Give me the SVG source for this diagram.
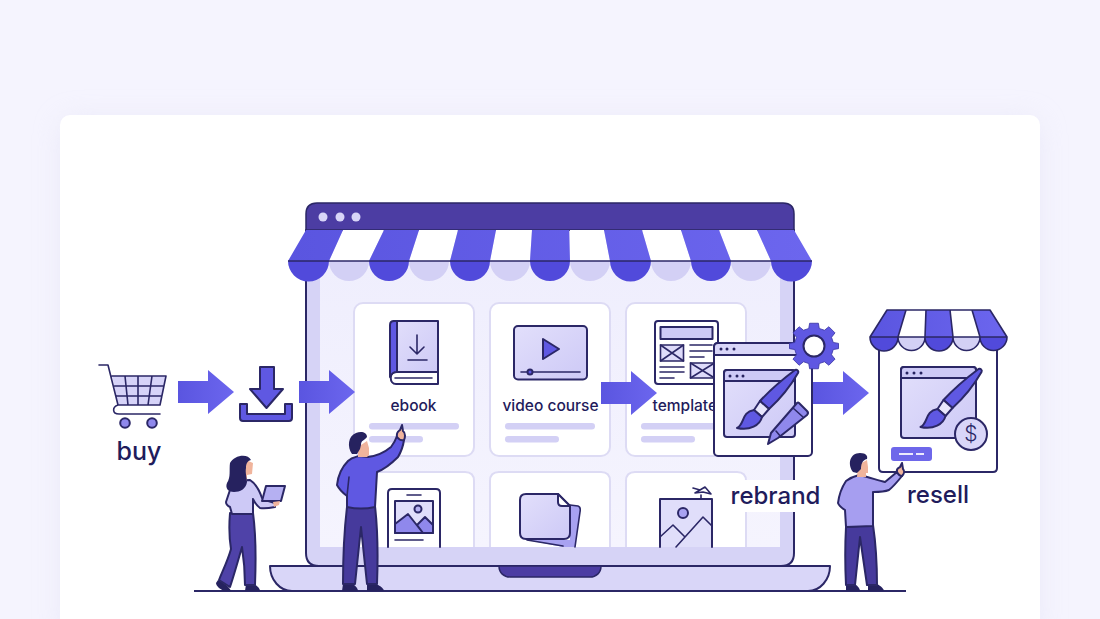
<svg xmlns="http://www.w3.org/2000/svg" width="1100" height="619" viewBox="0 0 1100 619">
<style>
.ink{stroke:#2b2766;stroke-width:2;stroke-linejoin:round;stroke-linecap:round}
.thin{stroke:#2b2766;stroke-width:1.600;stroke-linejoin:round;stroke-linecap:round;fill:none}
.lbl{font-family:"Inter","Liberation Sans",sans-serif;fill:#1f1c5c;text-anchor:middle;font-weight:500}
.card{fill:#fff;stroke:#dddbf4;stroke-width:2}
.bar{fill:#d3d0f5}
.lil{fill:#d8d5f8}
.dark{fill:#4c3da3}
.deep{fill:#26225f}
.skin{fill:#f0b49c}
</style>
<defs>
<linearGradient id="blueFade" x1="0" y1="0" x2="1" y2="0"><stop offset="0" stop-color="#5a55e0"/><stop offset="1" stop-color="#6c66ee"/></linearGradient>
<linearGradient id="iconFill" x1="0" y1="0" x2="1" y2="1"><stop offset="0" stop-color="#e2dffb"/><stop offset="1" stop-color="#cdc9f6"/></linearGradient>
<linearGradient id="panel" x1="0" y1="0" x2="0" y2="1"><stop offset="0" stop-color="#efeefd"/><stop offset="1" stop-color="#f5f4fe"/></linearGradient>
<filter id="soft" x="-10%" y="-10%" width="120%" height="120%"><feGaussianBlur stdDeviation="14"/></filter>
<path id="arrowShape" d="M0 -11H30V-22L56 0L30 22V11H0Z" fill="url(#blueFade)"/>
<g id="brush">
<path class="ink" fill="#5f58e2" stroke-width="1.800" d="M795 370C797 369 799 371 798 373C790 387 780 399 769 409L760 401C771 389 783 379 795 370Z"/>
<path class="ink" fill="#e8e6fc" stroke-width="1.800" d="M760 401L769 409L762 417L754 410Z"/>
<path class="ink" fill="#5f58e2" stroke-width="1.800" d="M754 410L762 417C760 425 750 431 737 428C745 424 741 412 754 410Z"/>
</g>
</defs>

<rect width="1100" height="619" fill="#f5f4fe"/>
<rect x="62" y="120" width="976" height="520" rx="10" fill="#dcdbf0" opacity=".5" filter="url(#soft)"/>
<rect x="60" y="115" width="980" height="530" rx="10" fill="#fff"/>

<g id="laptop">
<path d="M306 230H794V553Q794 566 781 566H319Q306 566 306 553Z" fill="#d6d3f6"/>
<rect x="320" y="262" width="460" height="285" fill="url(#panel)"/>
<path class="ink" fill="none" d="M306 230V553Q306 566 319 566H781Q794 566 794 553V230"/>
<path class="ink" fill="#d9d6f8" d="M270 566H830C830 580 820 591 808 591H292C280 591 270 580 270 566Z"/>
<path class="dark" d="M499 566H601C601 573 596 577 590 577H510C504 577 499 573 499 566Z" stroke="#2b2766" stroke-width="1.500"/>
<path class="dark" d="M306 230V214Q306 203 317 203H783Q794 203 794 214V230Z" stroke="#2b2766" stroke-width="1.500"/>
<circle cx="323" cy="217" r="4.500" class="lil"/><circle cx="340" cy="217" r="4.500" class="lil"/><circle cx="356" cy="217" r="4.500" class="lil"/>
</g>

<g id="awning">
<path fill="#d3d0f5" d="M329 261a20 20 0 0 0 40 0ZM409 261a20 20 0 0 0 40 0ZM490 261a20 20 0 0 0 40 0ZM570 261a20 20 0 0 0 40 0ZM651 261a20 20 0 0 0 40 0ZM731 261a20 20 0 0 0 40 0Z"/>
<path fill="#fff" d="M343 230H384L369 261H329ZM419 230H458L450 261H409ZM496 230H532L530 261H490ZM570 230H604L610 261H570ZM642 230H681L691 261H651ZM719 230H757L771 261H731Z"/>
<path fill="url(#blueFade)" d="M306 230H343L329 261H288ZM384 230H419L409 261H369ZM458 230H496L490 261H450ZM532 230H569L570 261H530ZM604 230H642L651 261H610ZM681 230H719L731 261H691ZM757 230H794L812 261H771Z"/>
<path fill="#514adb" d="M288 261a20.500 20.500 0 0 0 41 0ZM369 261a20 20 0 0 0 40 0ZM450 261a20 20 0 0 0 40 0ZM530 261a20 20 0 0 0 40 0ZM610 261a20.500 20.500 0 0 0 41 0ZM691 261a20 20 0 0 0 40 0ZM771 261a20.500 20.500 0 0 0 41 0Z"/>
<path d="M288 261H812" stroke="#2b2766" stroke-width="1.600"/>
</g>

<g id="ebook">
<rect class="card" x="354" y="303" width="120" height="153" rx="9"/>
<rect x="393" y="321" width="45" height="52" fill="url(#iconFill)"/>
<path class="ink" fill="#fff" d="M438 372H396C389 372 389 384 396 384H438Z"/>
<path class="ink" fill="none" d="M394 321H438V372"/>
<path class="ink" fill="#5f58e2" d="M390 377V325Q390 321 394 321H397V372Q392 372 390 377Z"/>
<path class="thin" d="M395 378H432M417 335V354M410 347L417 354L424 347M408 360H427"/>
<text class="lbl" x="413.500" y="411" font-size="15.500">ebook</text>
<rect class="bar" x="369" y="423" width="90" height="6.500" rx="3.200"/>
<rect class="bar" x="369" y="436" width="54" height="6.500" rx="3.200"/>
</g>

<g id="video-course">
<rect class="card" x="490" y="303" width="120" height="153" rx="9"/>
<rect class="ink" fill="url(#iconFill)" x="514" y="326" width="73" height="53.500" rx="4"/>
<path class="ink" fill="#5f58e2" d="M543 339L559 349L543 359Z"/>
<path class="thin" d="M521 372H580"/><circle class="ink" cx="530" cy="372" r="2.500" fill="#5f58e2" stroke-width="1.500"/>
<text class="lbl" x="550.500" y="411" font-size="15.500">video course</text>
<rect class="bar" x="505" y="423" width="90" height="6.500" rx="3.200"/>
<rect class="bar" x="505" y="436" width="54" height="6.500" rx="3.200"/>
</g>

<g id="templates">
<rect class="card" x="626" y="303" width="120" height="153" rx="9"/>
<rect class="ink" fill="#fff" x="655" y="321" width="63" height="63" rx="3"/>
<rect class="ink" fill="#cdc9f6" stroke-width="1.500" x="660.500" y="327" width="52" height="12"/>
<g class="thin"><rect x="660.500" y="345" width="23" height="16" fill="#dedbfa"/><path d="M660.500 345L683.500 361M683.500 345L660.500 361"/><rect x="690.500" y="363" width="24" height="15" fill="#dedbfa"/><path d="M690.500 363L714.500 378M714.500 363L690.500 378"/></g>
<path class="thin" stroke-width="1.300" d="M690 345H712M690 351H712M690 357H704M660 367H684M660 372H684M660 378H674"/>
<text class="lbl" x="689" y="411" font-size="15.500">templates</text>
<rect class="bar" x="641" y="423" width="90" height="6.500" rx="3.200"/>
<rect class="bar" x="641" y="436" width="54" height="6.500" rx="3.200"/>
</g>

<g id="card-image">
<path class="card" d="M354 547V481Q354 472 363 472H465Q474 472 474 481V547"/>
<path class="ink" fill="#fff" stroke-width="1.600" d="M388 547V493Q388 489 392 489H436Q440 489 440 493V547"/>
<path class="thin" d="M407 495H421M395 540H423"/>
<rect class="ink" fill="#e0defa" stroke-width="1.600" x="395" y="501" width="38" height="32"/>
<path class="ink" fill="#8f88ec" stroke-width="1.500" d="M395 524L408 514L423 533H395ZM417 525L425 517L433 525V533H423Z"/>
<circle class="ink" fill="#b5b0f2" stroke-width="1.400" cx="418" cy="509" r="3.500"/>
</g>

<g id="card-files">
<path class="card" d="M490 547V481Q490 472 499 472H601Q610 472 610 481V547"/>
<path fill="#a8a2f1" d="M570 505L578 506Q581 507 580 512L575 547H563L527 540H570Z"/>
<path class="thin" stroke-width="1.500" d="M570 505L578 506Q581 507 580 512L575 547M527 540L563 546"/>
<path class="ink" fill="url(#iconFill)" d="M526 494H558L570 506V533Q570 539 564 539H526Q520 539 520 533V500Q520 494 526 494Z"/>
<path class="ink" fill="#fff" stroke-width="1.500" d="M558 494V502Q558 506 562 506H570Z"/>
</g>

<g id="card-landscape">
<path class="card" d="M626 547V481Q626 472 635 472H737Q746 472 746 481V547"/>
<path class="ink" fill="#e0defa" stroke-width="1.600" d="M660 547V499H712V547"/>
<circle class="ink" fill="#a8a2f1" stroke-width="1.500" cx="683" cy="513" r="5"/>
<path class="thin" d="M660 537L673 525L685 537M676 547L703 517L712 526"/>
<path class="thin" d="M701 499V495M695 493L705 487L711 494L703 492ZM693 488L700 490"/>
</g>

<g id="connectors">
<use href="#arrowShape" transform="translate(178 392)"/>
<use href="#arrowShape" transform="translate(299 392)"/>
<use href="#arrowShape" transform="translate(601 393)"/>
<use href="#arrowShape" transform="translate(813 393)"/>
</g>

<g id="buy">
<path fill="#d6d3f8" d="M112 376H166L160 405H118Z"/>
<path class="thin" stroke-width="1.800" d="M99 365H108L118 405H160L166 376H112M114.500 386H164M116.500 396H162M125 376L128 405M138 376V405M152 376L148 405M118 405C112 407 112 414 119 414H160"/>
<circle class="ink" fill="#8f88ec" stroke-width="1.600" cx="125" cy="423" r="4.800"/>
<circle class="ink" fill="#8f88ec" stroke-width="1.600" cx="152" cy="423" r="4.800"/>
<text class="lbl" x="139" y="460" font-size="25">buy</text>
</g>

<g id="download">
<path class="ink" fill="#5f58e2" stroke-width="1.300" d="M260 367H274V389H283L266.500 408L250 389H260Z"/>
<path class="ink" fill="#5f58e2" stroke-width="1.300" d="M240 404H247V414H285V404H292V418Q292 421 289 421H243Q240 421 240 418Z"/>
</g>

<g id="rebrand">
<rect x="727" y="480" width="99" height="32" fill="#fff"/>
<text class="lbl" x="775.500" y="504" font-size="24">rebrand</text>
<rect class="ink" fill="#fff" x="714" y="343" width="98" height="113" rx="4"/>
<path class="ink" fill="#d9d6f8" d="M714 355V347Q714 343 718 343H808Q812 343 812 347V355Z"/>
<circle class="deep" cx="721" cy="349" r="1.500"/><circle class="deep" cx="727" cy="349" r="1.500"/><circle class="deep" cx="734" cy="349" r="1.500"/>
<rect class="ink" fill="url(#iconFill)" x="724" y="370" width="71" height="67" rx="3"/>
<path class="ink" fill="#cdc9f6" d="M724 381V373Q724 370 727 370H792Q795 370 795 373V381Z"/>
<circle class="deep" cx="730" cy="376" r="1.500"/><circle class="deep" cx="737" cy="376" r="1.500"/><circle class="deep" cx="743" cy="376" r="1.500"/>
<use href="#brush"/>
<path class="ink" fill="#8f88ec" stroke-width="1.700" d="M799 403L807 411Q809 413 807 415L778 438L768 444L771 433L797 403Q798 402 799 403Z"/>
<path class="thin" stroke-width="1.300" d="M793 408L803 417M776 431L781 437"/>
<path id="gear" fill="#5f58e2" stroke="#3f3aa8" stroke-width="1" transform="translate(814 346) scale(.875) translate(-814 -347)" d="M809 321H819L820 327L826 329L831 325L838 332L834 337L836 343L842 344V350L836 351L834 357L838 362L831 369L826 365L820 367L819 373H809L808 367L802 365L797 369L790 362L794 357L792 351L786 350V344L792 343L794 337L790 332L797 325L802 329L808 327Z"/>
<circle class="ink" fill="#fff" cx="814" cy="346" r="10.500"/>
</g>

<g id="resell">
<path class="ink" fill="#fff" d="M879 337H997V468Q997 472 993 472H883Q879 472 879 468Z"/>
<path fill="#fff" d="M906 310H926L925 337H898ZM950 310H972L980 337H953Z"/>
<path fill="#d3d0f5" d="M898 337a13.700 13.700 0 0 0 27.400 0ZM952.800 337a13.700 13.700 0 0 0 27.400 0Z"/>
<path fill="url(#blueFade)" d="M887 310H906L898 337H870ZM926 310H950L953 337H925ZM972 310H990L1007 337H980Z"/>
<path fill="#514adb" d="M870 337a14 14 0 0 0 28 0ZM925 337a14 14 0 0 0 28 0ZM980 337a13.500 13.500 0 0 0 27 0Z"/>
<path class="thin" d="M870 337L887 310H990L1007 337ZM906 310L898 337M926 310L925 337M950 310L953 337M972 310L980 337M870 337a14 14 0 0 0 28 0a13.500 13.500 0 0 0 27 0a14 14 0 0 0 28 0a13.500 13.500 0 0 0 27 0a13.500 13.500 0 0 0 27 0"/>
<rect class="ink" fill="url(#iconFill)" x="901" y="367" width="75" height="71" rx="3"/>
<path class="ink" fill="#cdc9f6" d="M901 378V370Q901 367 904 367H973Q976 367 976 370V378Z"/>
<circle class="deep" cx="907" cy="373" r="1.500"/><circle class="deep" cx="914" cy="373" r="1.500"/><circle class="deep" cx="921" cy="373" r="1.500"/>
<use href="#brush" transform="translate(183.500 -1)"/>
<circle class="ink" fill="#d9d6f8" cx="971" cy="434" r="16"/>
<text x="971" y="441" font-size="21" font-weight="300" text-anchor="middle" font-family="Inter,'Liberation Sans',sans-serif" fill="#2b2766">$</text>
<rect x="891" y="447" width="41" height="14" rx="3" fill="#6e67ea"/>
<path d="M899 454H913M916 454H924" stroke="#eceafd" stroke-width="2"/>
<text class="lbl" x="938" y="503" font-size="24">resell</text>
</g>

<path id="ground" d="M194 591H906" stroke="#2b2766" stroke-width="2"/>

<g id="woman">
<path class="deep" d="M218 580C222 582 229 586 231 591H224C220 589 216 586 216 583ZM246 584H254C258 586 260 589 260 591H245Z"/>
<path class="ink" fill="#4f42a8" stroke-width="1.500" d="M230 513H253C256 535 256 560 255 585H245C245 572 244 560 242 547C238 561 234 575 230 587L219 580C223 570 228 560 231 549C229 537 229 525 230 513Z"/>
<path class="ink" fill="#cdc9f6" stroke-width="1.500" d="M232 484C238 481 245 480 250 480C256 484 260 492 262 498C266 501 271 502 275 503V507C270 508 265 509 260 508C257 506 255 503 253 499L253 514H232L230 507C228 506 226 504 226 502Z"/>
<path class="skin" d="M246 460L253 463L252 474L247 475V481L241 482Z"/>
<path class="deep" d="M230 463C234 455 248 453 251 460C247 461 246 464 246 468C245 473 247 478 247 482C246 489 240 492 234 492C228 492 225 488 227 483C231 477 229 470 230 463Z"/>
<path class="ink" fill="#b5b0f2" stroke-width="1.500" d="M266 486H285L281 501H262Z"/>
<path class="skin" d="M273 502L280 501L279 505L274 507Z"/>
</g>

<g id="man-pointing">
<path class="deep" d="M343 584H353C356 586 358 589 358 591H342ZM367 584H376C381 586 384 589 384 591H367Z"/>
<path class="ink" fill="#463a9c" stroke-width="1.500" d="M347 507L375 506C378 532 378 558 377 584H367L361 527L355 584H343C343 558 344 532 347 507Z"/>
<path class="ink" fill="#5f58e2" stroke-width="1.500" d="M348 461C352 457 356 457 359 456L368 457C376 456 385 452 391 447C394 443 396 439 397 436L404 440C403 447 401 452 398 457C391 464 385 469 377 472L375 507C366 509 356 509 347 507L347 496C343 493 339 489 337 485C338 476 342 467 348 461Z"/>
<path class="thin" stroke-width="1.300" d="M347 496L349 477"/>
<path class="skin" d="M358 447L367 441L369 448L369 455L367 457L358 457Z"/>
<path class="deep" d="M352 454C347 447 348 436 356 433C361 431 367 432 367 437C364 441 361 440 361 445L360 449L357 454Z"/>
<path class="ink" fill="#f0b49c" stroke-width="1.200" d="M397 437C396 432 399 431 400 430L402 425L403 431C406 433 405 438 404 440Q400 441 397 437Z"/>
</g>

<g id="man-reselling">
<path class="deep" d="M846 584H855C858 586 860 589 860 591H846ZM868 584H877C881 586 884 589 884 591H868Z"/>
<path class="ink" fill="#463a9c" stroke-width="1.500" d="M846 527L873 525C876 545 877 565 877 585H867L860 537L855 585H846C845 565 845 545 846 527Z"/>
<path class="ink" fill="#a69ef0" stroke-width="1.500" d="M846 481C850 478 855 476 859 475C868 477 877 480 885 482L897 472L902 476C898 481 894 486 889 490C884 492 878 492 873 492L873 526L846 527L845 510C842 508 839 506 838 503C839 495 842 487 846 481Z"/>
<path class="skin" d="M858 465L867 460L868 467L868 473L866 473L866 477H857Z"/>
<path class="deep" d="M853 472C847 464 850 453 860 453C866 453 868 456 867 459C862 460 861 465 861 469L857 473Z"/>
<path class="ink" fill="#f0b49c" stroke-width="1.200" d="M897 472C896 468 899 468 900 467L902 463L903 469C905 471 904 474 902 476Q899 476 897 472Z"/>
</g>
</svg>
